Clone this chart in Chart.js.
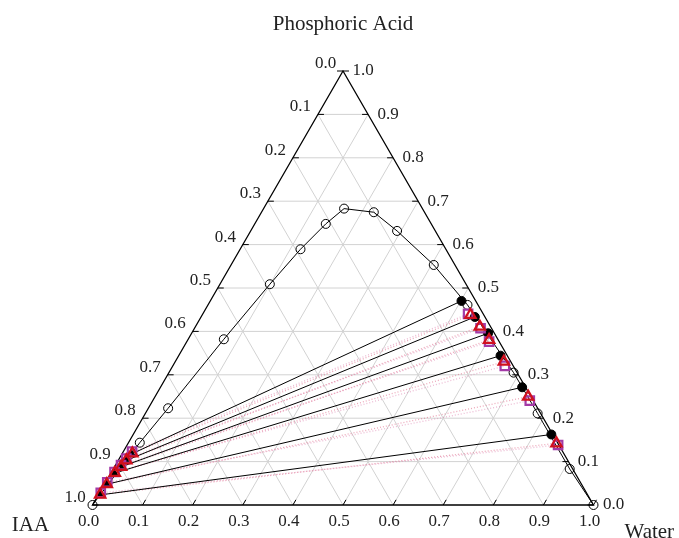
<!DOCTYPE html>
<html>
<head>
<meta charset="utf-8">
<script src="https://cdn.jsdelivr.net/npm/chart.js@4.4.1/dist/chart.umd.min.js"></script>
<style>
html,body{margin:0;padding:0;background:#fff;}
canvas{display:block;}
</style>
</head>
<body>
<canvas id="c" width="679" height="538"></canvas>
<script>
// ---- Data (ternary mass fractions: water, phosphoric acid; IAA = 1 - water - acid) ----
const tickValues = [0.0,0.1,0.2,0.3,0.4,0.5,0.6,0.7,0.8,0.9,1.0];
const axisTitles = ["Phosphoric Acid", "IAA", "Water"];

// binodal curve
const binodalWater = [0, 0.0226, 0.0395, 0.0712, 0.0996, 0.1205, 0.1418, 0.1607, 0.2242, 0.2922, 0.4046, 0.518, 0.688, 0.783, 0.911, 1.0];
const binodalAcid  = [0, 0.1436, 0.2229, 0.3819, 0.5087, 0.5893, 0.6477, 0.6829, 0.6746, 0.6315, 0.5531, 0.461, 0.305, 0.211, 0.083, 0];

// experimental tie lines
const expOrgWater = [0.0191, 0.0154, 0.0127, 0.0066, 0.0041, 0.0031];
const expOrgAcid  = [0.1175, 0.1021, 0.0876, 0.0731, 0.0477, 0.0231];
const expAqWater  = [0.5014, 0.5465, 0.5917, 0.6424, 0.7219, 0.8346];
const expAqAcid   = [0.4702, 0.4333, 0.3957, 0.3441, 0.2713, 0.1625];

// calculated tie lines (model 1: triangles)
const calcAOrgWater = [0.0200, 0.0160, 0.0130, 0.0075, 0.0045, 0.0032];
const calcAOrgAcid  = [0.1190, 0.1030, 0.0880, 0.0740, 0.0480, 0.0240];
const calcAAqWater  = [0.5355, 0.5675, 0.6015, 0.6559, 0.7447, 0.8550];
const calcAAqAcid   = [0.4379, 0.4110, 0.3803, 0.3303, 0.2496, 0.1422];

// calculated tie lines (model 2: squares)
const calcBOrgWater = [0.0175, 0.0140, 0.0110, 0.0060, 0.0035, 0.0025];
const calcBOrgAcid  = [0.1230, 0.1070, 0.0920, 0.0760, 0.0520, 0.0280];
const calcBAqWater  = [0.5296, 0.5709, 0.6034, 0.6628, 0.7526, 0.8602];
const calcBAqAcid   = [0.4402, 0.4073, 0.3764, 0.3204, 0.2404, 0.1383];

// ---- helpers ----
const H = Math.sqrt(3)/2;
function tern(w, p){ return {x: w + p/2, y: p*H}; }
function pts(ws, ps){ return ws.map((w,i)=>tern(w, ps[i])); }

const FONT = "'Liberation Serif', 'Times New Roman', serif";
const datasets = [];

// pink dotted calculated tie lines
for (let i=0;i<calcAOrgWater.length;i++){
  datasets.push({data:[tern(calcAOrgWater[i],calcAOrgAcid[i]), tern(calcAAqWater[i],calcAAqAcid[i])],
    showLine:true, borderColor:'rgba(225,110,140,0.6)', borderWidth:1.3, borderDash:[1,2], pointRadius:0, order:7, clip:false});
  datasets.push({data:[tern(calcBOrgWater[i],calcBOrgAcid[i]), tern(calcBAqWater[i],calcBAqAcid[i])],
    showLine:true, borderColor:'rgba(220,120,170,0.5)', borderWidth:1.3, borderDash:[1,2], pointRadius:0, order:7, clip:false});
}
// experimental tie lines
for (let i=0;i<expOrgWater.length;i++){
  datasets.push({data:[tern(expOrgWater[i],expOrgAcid[i]), tern(expAqWater[i],expAqAcid[i])],
    showLine:true, borderColor:'#000', borderWidth:1, pointRadius:0, order:5, clip:false});
}
// binodal
datasets.push({data:pts(binodalWater, binodalAcid), showLine:true, borderColor:'#000', borderWidth:1,
  pointStyle:'circle', pointRadius:4.5, pointBackgroundColor:'rgba(255,255,255,0)', pointBorderColor:'#000', pointBorderWidth:1, order:6, clip:false});
// experimental points
datasets.push({data:pts(expAqWater, expAqAcid), showLine:false, pointStyle:'circle', pointRadius:4.5,
  pointBackgroundColor:'#000', pointBorderColor:'#000', pointBorderWidth:1, order:3, clip:false});
datasets.push({data:pts(expOrgWater, expOrgAcid), showLine:false, pointStyle:'triangle', pointRadius:4.5,
  pointBackgroundColor:'#000', pointBorderColor:'#000', pointBorderWidth:1, order:3, clip:false});
// model squares
datasets.push({data:pts(calcBAqWater.concat(calcBOrgWater), calcBAqAcid.concat(calcBOrgAcid)), showLine:false, pointStyle:'rect', pointRadius:6,
  pointBackgroundColor:'rgba(255,255,255,0)', pointBorderColor:'#a33aa6', pointBorderWidth:2.2, order:1, clip:false});
// model triangles
datasets.push({data:pts(calcAAqWater.concat(calcAOrgWater), calcAAqAcid.concat(calcAOrgAcid)), showLine:false, pointStyle:'triangle', pointRadius:6,
  pointBackgroundColor:'rgba(255,255,255,0)', pointBorderColor:'#d0101e', pointBorderWidth:2.2, order:0, clip:false});

const ternaryFrame = {
  id:'ternaryFrame',
  beforeDatasetsDraw(chart){
    const c = chart.ctx, sx = chart.scales.x, sy = chart.scales.y;
    const P = (w,p)=>{ const t=tern(w,p); return [sx.getPixelForValue(t.x), sy.getPixelForValue(t.y)]; };
    const seg = (a,b,col,lw)=>{ c.beginPath(); c.moveTo(a[0],a[1]); c.lineTo(b[0],b[1]); c.strokeStyle=col; c.lineWidth=lw; c.stroke(); };
    c.save();
    // grid
    for (let i=1;i<tickValues.length-1;i++){
      const t = tickValues[i];
      seg(P(0,t), P(1-t,t), '#d2d2d2', 1);     // constant acid
      seg(P(t,0), P(t,1-t), '#d2d2d2', 1);     // constant water
      seg(P(1-t,0), P(0,1-t), '#d2d2d2', 1);   // constant IAA
    }
    // frame
    c.beginPath();
    const A=P(0,0), B=P(1,0), C=P(0,1);
    c.moveTo(A[0],A[1]); c.lineTo(B[0],B[1]); c.lineTo(C[0],C[1]); c.closePath();
    c.strokeStyle='#000'; c.lineWidth=1.3; c.stroke();
    // ticks
    const L = 6;
    for (let i=0;i<tickValues.length;i++){
      const t = tickValues[i];
      const b = P(t,0); seg(b, [b[0]+L*0.5, b[1]-L*H], '#000', 1);
      const l = P(0,1-t); seg(l, [l[0]+L, l[1]], '#000', 1);
      const r = P(1-t,t); seg(r, [r[0]-L, r[1]], '#000', 1);
    }
    // labels
    c.fillStyle='#222';
    c.font = '17px ' + FONT;
    c.textAlign='center'; c.textBaseline='middle';
    for (let i=0;i<tickValues.length;i++){
      const t = tickValues[i], s = t.toFixed(1);
      const b = P(t,0); c.fillText(s, b[0]-4, b[1]+17);
      const l = P(0,1-t); c.fillText(s, l[0]-17.5, l[1]-7.5);
      const r = P(1-t,t); c.fillText(s, r[0]+20, r[1]);
    }
    c.font = '21px ' + FONT;
    const top = P(0,1);
    c.fillText(axisTitles[0], top[0], top[1]-47);
    c.fillText(axisTitles[1], A[0]-62, A[1]+20);
    c.textAlign='left';
    c.fillText(axisTitles[2], B[0]+31, B[1]+27);
    c.restore();
  }
};

new Chart(document.getElementById('c'), {
  type:'scatter',
  data:{datasets},
  options:{
    responsive:false, animation:false, devicePixelRatio:1,
    layout:{padding:{left:92.5, right:85.5, top:71, bottom:33}},
    scales:{
      x:{type:'linear', min:0, max:1, display:false},
      y:{type:'linear', min:0, max:H, display:false}
    },
    plugins:{legend:{display:false}, tooltip:{enabled:false}}
  },
  plugins:[ternaryFrame]
});
</script>
</body>
</html>
